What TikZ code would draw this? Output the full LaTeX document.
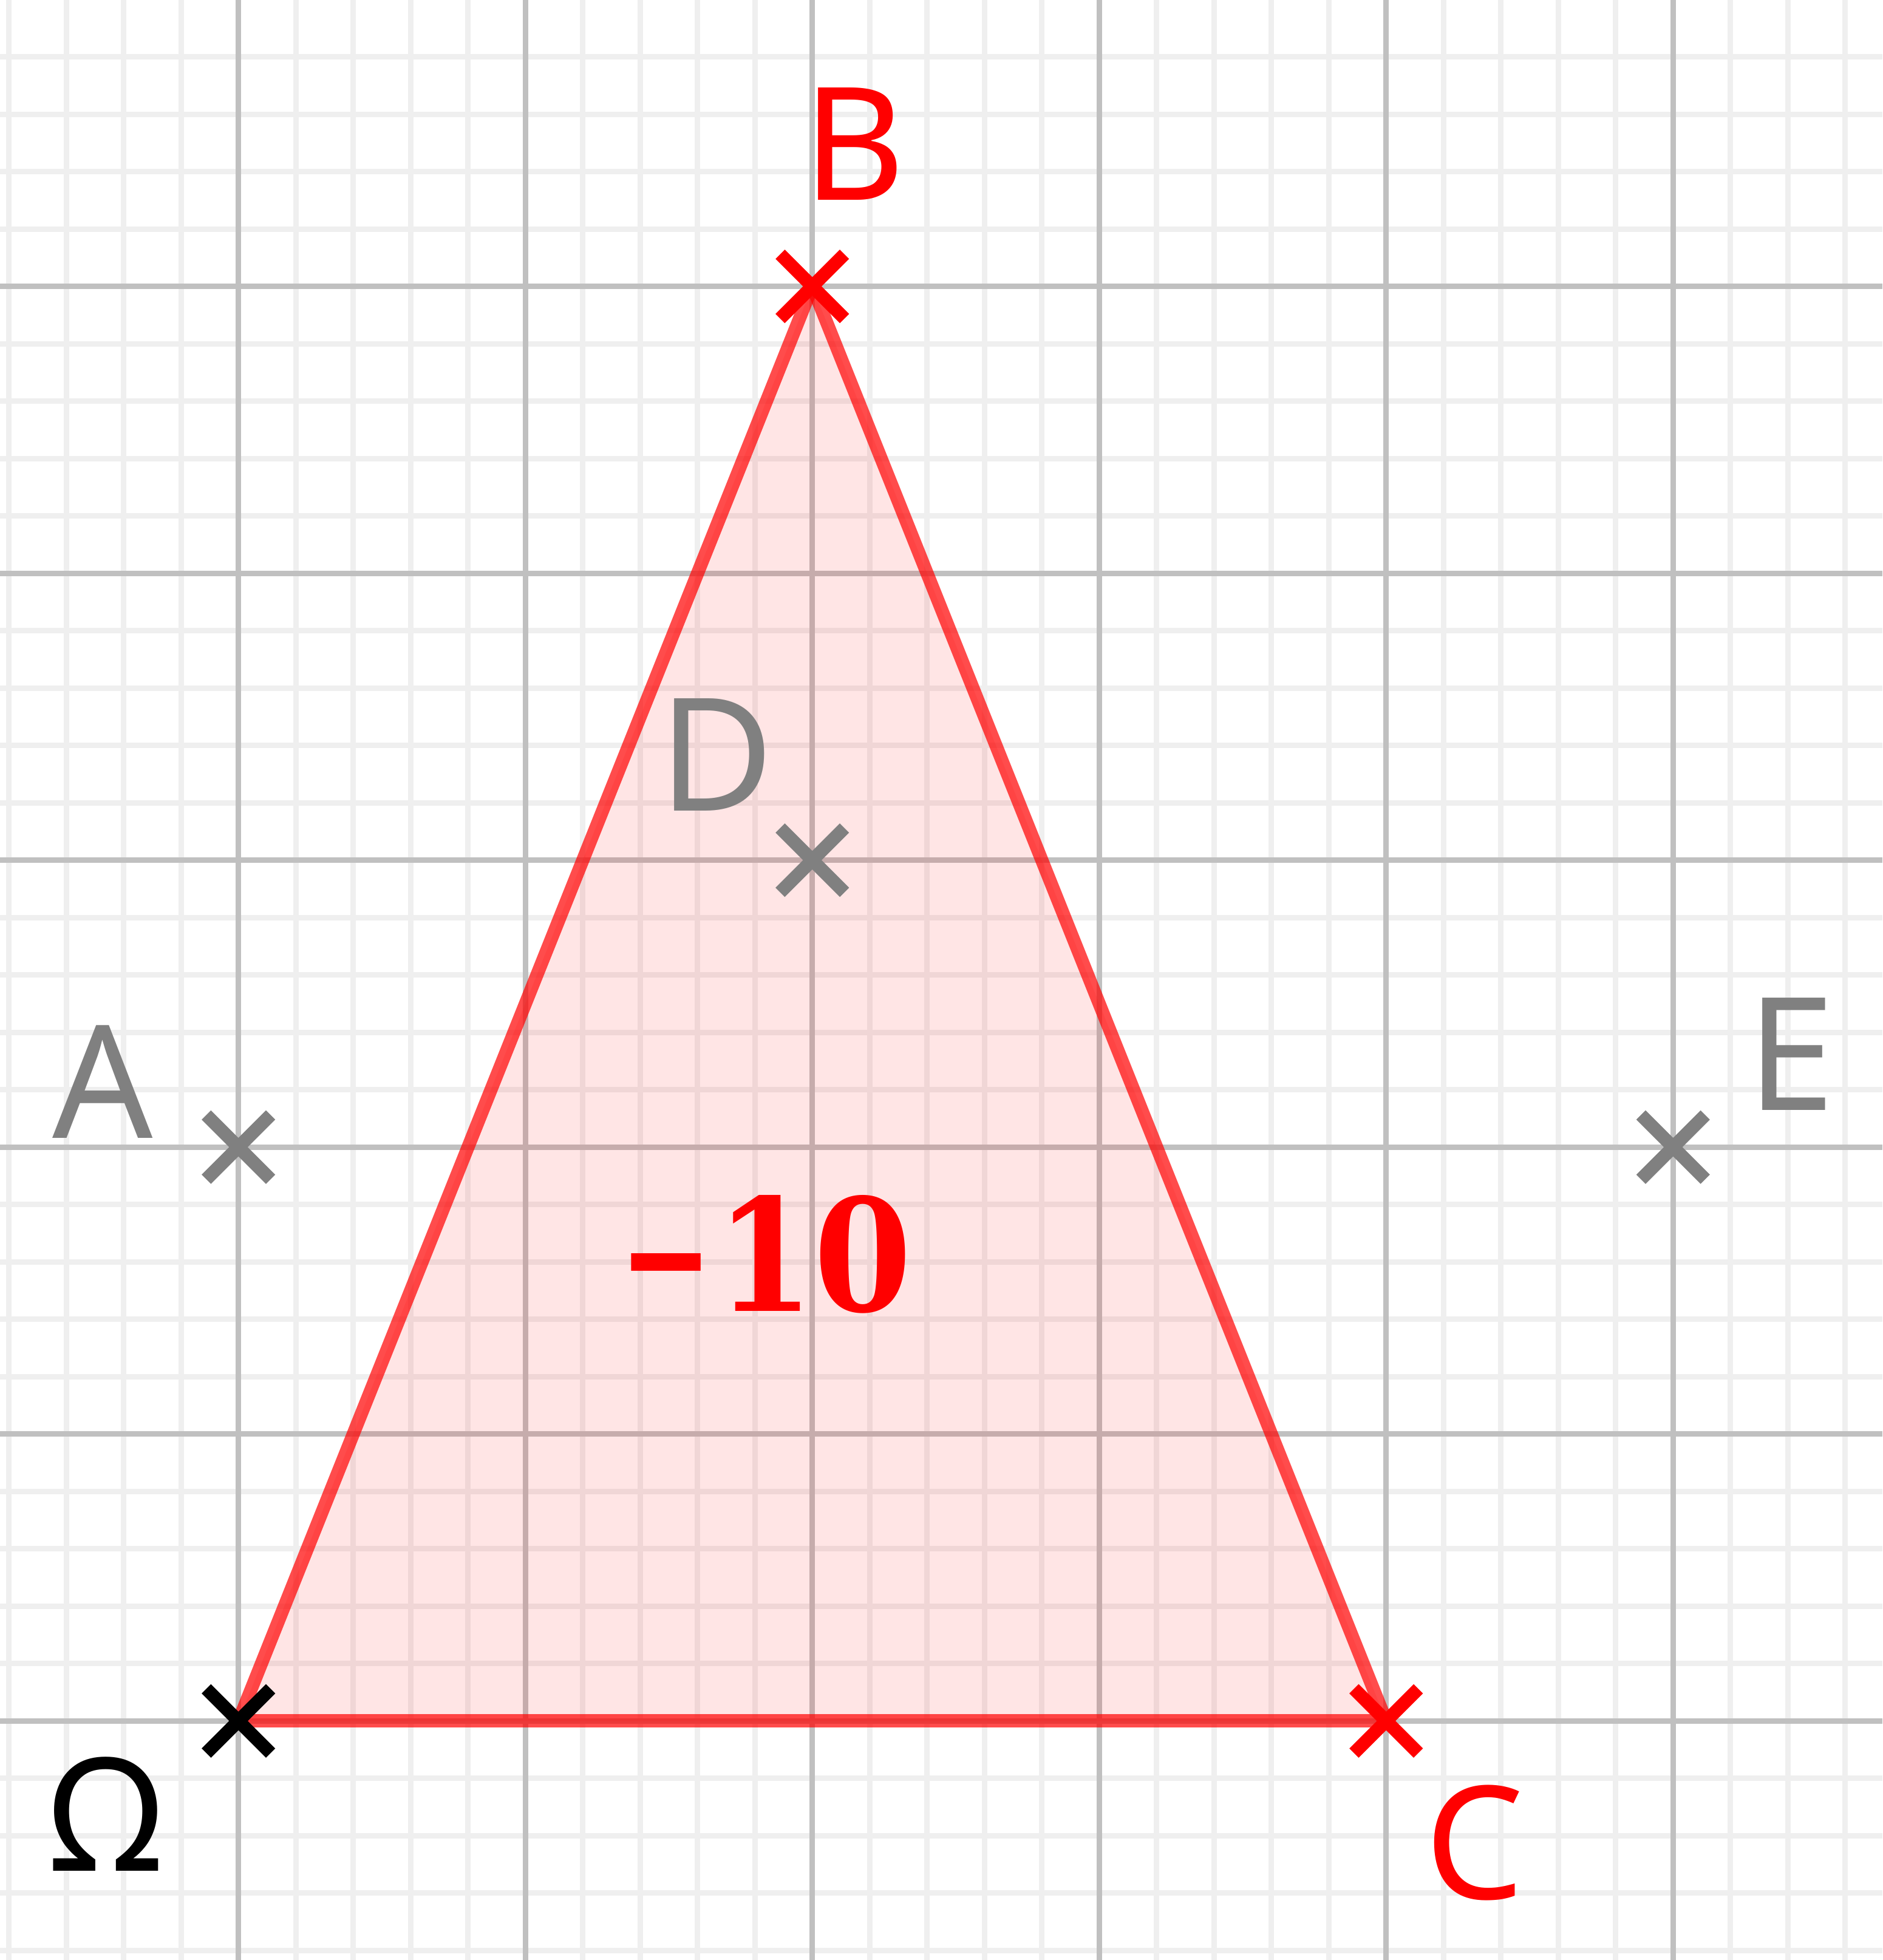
\documentclass[tikz,border=0pt]{standalone}
\usepackage{graphicx}
\usepackage{fontspec}
\setmainfont{Noto Sans}
\newfontfamily\areafont{DejaVu Serif}
\definecolor{ptgray}{HTML}{808080}
\definecolor{majgrid}{HTML}{C0C0C0}
\definecolor{mingrid}{HTML}{EFEFEF}
\begin{document}
\begin{tikzpicture}[x=1cm,y=1cm,
  lbl/.style={font=\fontsize{15.6}{18}\selectfont, inner sep=0pt, anchor=center},
  xstroke/.style={line width=1.3pt, line cap=butt},
  pics/xmark/.style={code={\draw[xstroke,#1] (-0.112,-0.112) -- (0.112,0.112) (-0.112,0.112) -- (0.112,-0.112);}},
  edge/.style={draw=red, draw opacity=0.7, line width=1.3pt, line cap=round},
  minorgrid/.style={draw=mingrid, line width=0.55pt},
  majorgrid/.style={draw=majgrid, line width=0.55pt}
]
\useasboundingbox (-0.8311,-0.8332) rectangle (5.7297,5.9985);
\fill[white] (-0.8311,-0.8332) rectangle (5.7297,5.9985);
\draw[minorgrid] (-0.8311,-0.8332) grid[step=0.2] (5.7297,5.9985);
\draw[majorgrid] (-0.8311,-0.8332) grid[step=1] (5.7297,5.9985);

\coordinate (O) at (0,0);
\coordinate (B) at (2,5);
\coordinate (C) at (4,0);
\coordinate (D) at (2,3);
\coordinate (A) at (0,2);
\coordinate (E) at (5,2);

\fill[red, fill opacity=0.1] (O) -- (B) -- (C) -- cycle;
\draw[edge] (O) -- (B);
\draw[edge] (B) -- (C);
\draw[edge] (C) -- (O);

\pic at (A) {xmark=ptgray};
\pic at (D) {xmark=ptgray};
\pic at (E) {xmark=ptgray};
\pic at (O) {xmark=black};
\pic at (B) {xmark=red};
\pic at (C) {xmark=red};

\node[lbl, text=red] (lB) at (2.145,5.497) {B};
\node[lbl, text=red] (lC) at (4.309,-0.424) {C};
\node[lbl, text=ptgray] (lD) at (1.667,3.367) {D};
\node[lbl, text=ptgray] (lA) at (-0.472,2.228) {A};
\node[lbl, text=ptgray] (lE) at (5.412,2.324) {E};
\node[lbl, text=black] (lO) at (-0.461,-0.325) {Ω};
\node[lbl, text=red, font=\fontsize{15.5}{18}\selectfont\areafont\bfseries] (area) at (1.838,1.627) {\scalebox{0.71}[1]{−}\hspace{0.3pt}\scalebox{0.9}[1]{10}};
\end{tikzpicture}
\end{document}
